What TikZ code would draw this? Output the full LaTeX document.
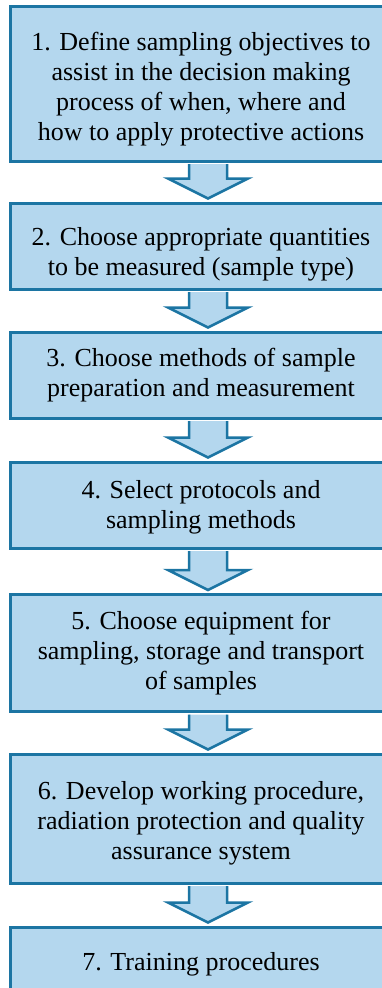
\documentclass[tikz,border=0pt]{standalone}
\usepackage{fontspec}
\setmainfont{Liberation Serif}
\usetikzlibrary{calc}
\definecolor{boxfill}{RGB}{180,215,238}
\definecolor{boxline}{RGB}{28,117,163}
% text of a box, set a little left of the box centre (optional: space on top)
\newcommand{\steptext}[2][0pt]{%
  \begin{tabular}{@{}c@{\hspace{14pt}}}\noalign{\vskip#1}#2\end{tabular}}
% block arrow from the bottom of one box to the top of the next
\newcommand{\flowdown}[2]{%
  \draw[flowarrow] ($(#1.south)+(-19,1.5)$) -- ($(#2.north)+(-19,-23)$)
    -- ($(#2.north)+(-40,-23)$) -- ($(#2.north)+(0,-3)$)
    -- ($(#2.north)+(40,-23)$) -- ($(#2.north)+(19,-23)$)
    -- ($(#1.south)+(19,1.5)$);}
\begin{document}
\begin{tikzpicture}[x=1pt,y=-1pt,
  stepbox/.style={draw=boxline,fill=boxfill,line width=3pt,minimum width=396pt,
    inner sep=0pt,font=\fontsize{26}{30}\selectfont},
  flowarrow/.style={draw=boxline,fill=boxfill,line width=2.5pt,line join=miter}]
  \useasboundingbox (0,0) rectangle (382,988);
  \clip (0,0) rectangle (382,988);
  \node[stepbox,minimum height=155pt] (box1) at (208,83.5)
    {\steptext[12pt]{1. Define sampling objectives to\\assist in the decision making\\process of when, where and\\how to apply protective actions}};
  \node[stepbox,minimum height=86pt] (box2) at (208,246)
    {\steptext[16pt]{2. Choose appropriate quantities\\to be measured (sample type)}};
  \node[stepbox,minimum height=86pt] (box3) at (208,375)
    {\steptext{3. Choose methods of sample\\preparation and measurement}};
  \node[stepbox,minimum height=86pt] (box4) at (208,505)
    {\steptext[4pt]{4. Select protocols and\\sampling methods}};
  \node[stepbox,minimum height=117pt] (box5) at (208,653)
    {\steptext{5. Choose equipment for\\sampling, storage and transport\\of samples}};
  \node[stepbox,minimum height=129pt] (box6) at (208,818.5)
    {\steptext[10pt]{6. Develop working procedure,\\radiation protection and quality\\assurance system}};
  \node[stepbox,minimum height=68pt] (box7) at (208,961)
    {\steptext[6pt]{7. Training procedures}};
  \flowdown{box1}{box2}
  \flowdown{box2}{box3}
  \flowdown{box3}{box4}
  \flowdown{box4}{box5}
  \flowdown{box5}{box6}
  \flowdown{box6}{box7}
\end{tikzpicture}
\end{document}
